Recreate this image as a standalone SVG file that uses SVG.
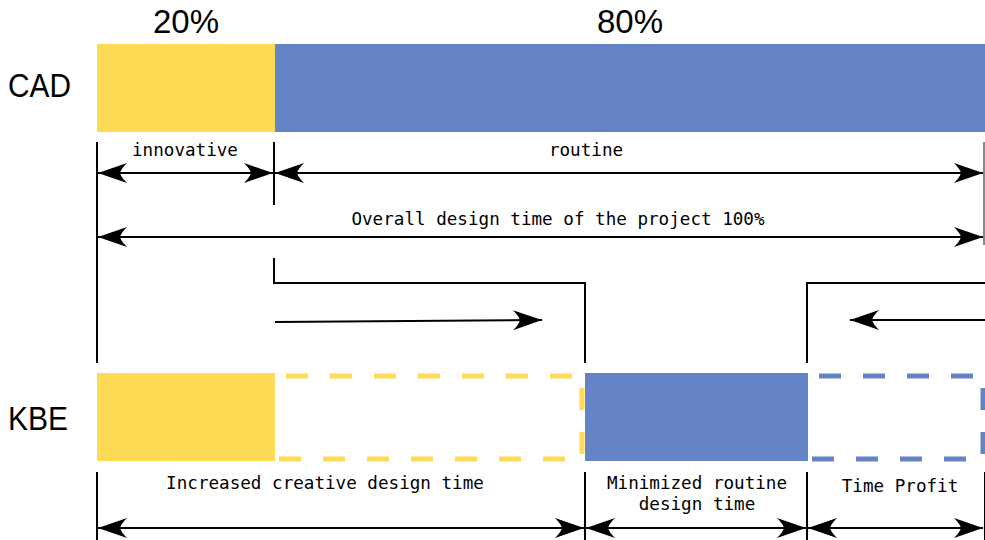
<svg xmlns="http://www.w3.org/2000/svg" width="985" height="540" viewBox="0 0 985 540">
<style>
.lbl{font-family:"Liberation Sans",Arial,sans-serif;font-size:33px;fill:#000}
.mono{font-family:"DejaVu Sans Mono","Liberation Mono",monospace;font-size:17.6px;fill:#000;text-anchor:middle}
.line{stroke:#000;stroke-width:2;fill:none}
.arr{stroke:#000;stroke-width:2;fill:none;marker-start:url(#ah);marker-end:url(#ah)}
.yel{fill:#FFDA55}
.blu{fill:#6584C8}
.dy{stroke:#FFDA55;stroke-width:5;fill:none;stroke-dasharray:22 22}
.db{stroke:#6584C8;stroke-width:5;fill:none;stroke-dasharray:22 22}
</style>
<defs>
<marker id="ah" viewBox="-31 -11 32 22" markerWidth="32" markerHeight="22" refX="0" refY="0" orient="auto-start-reverse" markerUnits="userSpaceOnUse">
<path d="M0,0 L-29,-10 Q-23,-4 -22,0 Q-23,4 -29,10 Z" fill="#000"/>
</marker>
</defs>
<g id="labels">
<text class="lbl" x="186" y="33" text-anchor="middle">20%</text>
<text class="lbl" x="630" y="33" text-anchor="middle">80%</text>
<text class="lbl" x="8" y="97" textLength="63" lengthAdjust="spacingAndGlyphs">CAD</text>
<text class="lbl" x="8" y="430" textLength="60" lengthAdjust="spacingAndGlyphs">KBE</text>
</g>
<g id="cad-bar">
<rect class="yel" x="97" y="44" width="178" height="88"/>
<rect class="blu" x="275" y="44" width="710" height="88"/>
</g>
<g id="kbe-bar">
<rect class="yel" x="97" y="373" width="178" height="88"/>
<path class="dy" d="M286,376 H580"/>
<path class="dy" d="M279,459 H570"/>
<path class="dy" d="M582,388 V456"/>
<rect class="blu" x="585" y="373" width="223" height="88"/>
<path class="db" d="M819,376 H985"/>
<path class="db" d="M812,459 H985"/>
<path class="db" d="M983,388 V456"/>
</g>
<g id="connectors">
<line class="line" x1="97" y1="142" x2="97" y2="363"/>
<line class="line" x1="274" y1="142" x2="274" y2="205"/>
<line x1="984" y1="142" x2="984" y2="245" stroke="#888" stroke-width="2"/>
<polyline class="line" points="274,258 274,283 585,283 585,363"/>
<polyline class="line" points="807,363 807,283 985,283"/>
<line class="arr" x1="98" y1="173" x2="273" y2="173"/>
<line class="arr" x1="275" y1="173" x2="983" y2="173"/>
<line class="arr" x1="98" y1="237" x2="983" y2="237"/>
<line class="line" x1="275" y1="322" x2="542" y2="320" style="marker-end:url(#ah)"/>
<line class="line" x1="985" y1="320" x2="850" y2="320" style="marker-end:url(#ah)"/>
<line class="line" x1="97" y1="472" x2="97" y2="540"/>
<line class="line" x1="585" y1="472" x2="585" y2="540"/>
<line class="line" x1="807" y1="472" x2="807" y2="540"/>
<line x1="985" y1="472" x2="985" y2="540" stroke="#000" stroke-width="2"/>
<line class="arr" x1="98" y1="528" x2="584" y2="528"/>
<line class="arr" x1="586" y1="528" x2="806" y2="528"/>
<line class="arr" x1="808" y1="528" x2="983" y2="528"/>
</g>
<g id="texts">
<text class="mono" x="185" y="156">innovative</text>
<text class="mono" x="586" y="156">routine</text>
<text class="mono" x="558" y="225">Overall design time of the project 100%</text>
<text class="mono" x="325" y="489">Increased creative design time</text>
<text class="mono" x="697" y="489">Minimized routine</text>
<text class="mono" x="697" y="510">design time</text>
<text class="mono" x="900" y="492">Time Profit</text>
</g>
</svg>
